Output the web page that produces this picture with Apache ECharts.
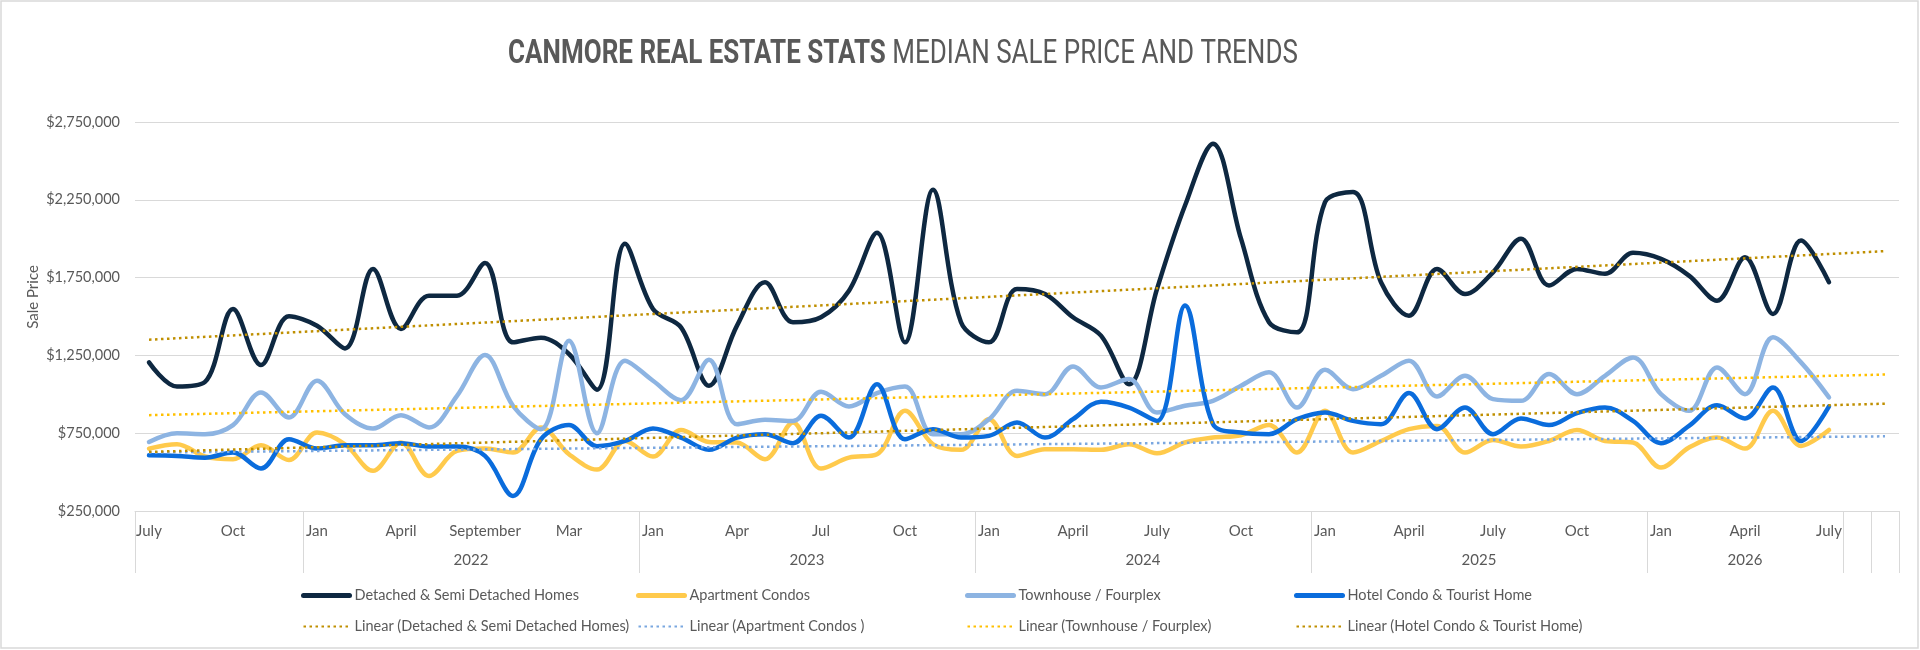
<!DOCTYPE html>
<html>
<head>
<meta charset="utf-8">
<title>Canmore Real Estate Stats</title>
<script src="https://cdn.jsdelivr.net/npm/echarts@6.0.0/dist/echarts.min.js"></script>
<style>
  html, body { margin: 0; padding: 0; background: #fff; }
  #chart { width: 1920px; height: 650px; }
</style>
</head>
<body>
<div id="chart"></div>
<script>
// month labels shown on the axis (index = month since July 2021, 63 slots)
var monthLabels = {
    0: 'July', 3: 'Oct', 6: 'Jan', 9: 'April', 12: 'September', 15: 'Mar',
    18: 'Jan', 21: 'Apr', 24: 'Jul', 27: 'Oct', 30: 'Jan', 33: 'April',
    36: 'July', 39: 'Oct', 42: 'Jan', 45: 'April', 48: 'July', 51: 'Oct',
    54: 'Jan', 57: 'April', 60: 'July'
};
var slotCount = 63;
// year labels, placed at half-month positions (0..126)
var yearLabels = { 24: '2022', 48: '2023', 72: '2024', 96: '2025', 115: '2026' };
// group separators, in half-month positions
var yearBreaks = [0, 12, 36, 60, 84, 108, 122, 124, 126];

var yTicks = [250000, 750000, 1250000, 1750000, 2250000, 2750000];

var detached = [1205000, 1050000, 1080000, 1548000, 1188000, 1501000, 1441000, 1295000, 1806000, 1420000,
    1634000, 1634000, 1844000, 1334000, 1364000, 1259000, 1030000, 1967000, 1548000, 1430000,
    1055000, 1441000, 1720000, 1463000, 1495000, 1666000, 2038000, 1334000, 2314000, 1463000,
    1334000, 1677000, 1645000, 1495000, 1377000, 1065000, 1677000, 2213000, 2611000, 2000000,
    1463000, 1398000, 2235000, 2300000, 1720000, 1505000, 1806000, 1645000, 1784000, 2000000,
    1699000, 1806000, 1774000, 1909000, 1870000, 1763000, 1602000, 1881000, 1516000, 1988000,
    1720000];
var apartment = [651000, 679000, 600000, 583000, 673000, 578000, 754000, 679000, 508000, 690000,
    475000, 636000, 651000, 626000, 787000, 615000, 516000, 700000, 600000, 771000,
    694000, 690000, 583000, 819000, 523000, 593000, 615000, 894000, 679000, 643000,
    840000, 604000, 647000, 647000, 643000, 679000, 621000, 690000, 722000, 737000,
    802000, 626000, 894000, 626000, 700000, 776000, 797000, 626000, 707000, 664000,
    700000, 771000, 700000, 690000, 529000, 658000, 722000, 651000, 894000, 668000,
    771000];
var townhouse = [694000, 750000, 744000, 802000, 1012000, 851000, 1087000, 872000, 780000, 866000,
    787000, 990000, 1252000, 926000, 776000, 1344000, 750000, 1216000, 1087000, 962000,
    1222000, 808000, 836000, 829000, 1016000, 922000, 1008000, 1050000, 744000, 744000,
    840000, 1023000, 1001000, 1179000, 1044000, 1098000, 883000, 926000, 958000, 1055000,
    1141000, 915000, 1158000, 1033000, 1119000, 1216000, 986000, 1119000, 969000, 958000,
    1130000, 1001000, 1119000, 1237000, 1001000, 894000, 1173000, 1001000, 1366000, 1205000,
    980000];
var hotel = [608000, 604000, 593000, 626000, 523000, 711000, 651000, 673000, 673000, 686000,
    664000, 664000, 604000, 347000, 711000, 802000, 666000, 700000, 780000, 722000,
    643000, 722000, 744000, 686000, 862000, 722000, 1065000, 711000, 776000, 722000,
    733000, 819000, 722000, 840000, 952000, 915000, 829000, 1570000, 808000, 754000,
    744000, 840000, 883000, 829000, 808000, 1008000, 776000, 915000, 744000, 845000,
    802000, 879000, 915000, 829000, 686000, 797000, 930000, 845000, 1044000, 700000,
    922000];

// trend lines: value at first slot and at last slot
var trendSlots = [0, 62];
var detachedTrend = [1351000, 1920000];
var apartmentTrend = [626000, 730000];
var townhouseTrend = [866000, 1127000];
var hotelTrend = [630000, 940000];

var names = ['Detached & Semi Detached Homes', 'Apartment Condos', 'Townhouse / Fourplex', 'Hotel Condo & Tourist Home'];
var trendNames = ['Linear (Detached & Semi Detached Homes)', 'Linear (Apartment Condos )',
    'Linear (Townhouse / Fourplex)', 'Linear (Hotel Condo & Tourist Home)'];
var colors = ['#0E2841', '#FFCA4C', '#8DB4E2', '#0A6CDC'];
var trendColors = ['#BF8F00', '#7AA7E0', '#FFC000', '#BF8F00'];

var font = "Lato, 'Liberation Sans', sans-serif";
var titleFont = "Roboto, 'Liberation Sans', sans-serif";
var grey = '#595959';

var slots = [];
for (var i = 0; i < slotCount; i++) slots.push('m' + i);
var halfSlots = [];
for (var j = 0; j <= slotCount * 2; j++) halfSlots.push('h' + j);

function money(v) {
    return '$' + v.toString().replace(/\B(?=(\d{3})+(?!\d))/g, ',');
}
function pairs(vals) {
    return [[trendSlots[0], vals[0]], [trendSlots[1], vals[1]]];
}

var myChart = echarts.init(document.getElementById('chart'));
var seriesData = [detached, apartment, townhouse, hotel];
var trendData = [detachedTrend, apartmentTrend, townhouseTrend, hotelTrend];
var series = [];
for (var s = 0; s < 4; s++) {
    series.push({
        name: names[s],
        type: 'line',
        smooth: 0.35,
        symbol: 'none',
        xAxisIndex: 0,
        data: seriesData[s],
        lineStyle: { color: colors[s], width: 4.5, cap: 'round' },
        itemStyle: { color: colors[s] },
        z: 2
    });
}
for (var t = 0; t < 4; t++) {
    series.push({
        name: trendNames[t],
        type: 'line',
        symbol: 'none',
        xAxisIndex: 0,
        data: pairs(trendData[t]),
        lineStyle: { color: trendColors[t], width: 2.5, type: [2.5, 3.5] },
        itemStyle: { color: trendColors[t] },
        z: 3
    });
}

var legendLefts = [301, 636, 965, 1294];
var legends = [];
for (var l = 0; l < 4; l++) {
    legends.push({
        left: legendLefts[l],
        top: 588,
        padding: 0,
        orient: 'vertical',
        itemGap: 16,
        itemWidth: 46,
        itemHeight: 16,
        selectedMode: false,
        itemStyle: { opacity: 0 },
        data: [
            { name: names[l], lineStyle: { width: 5, cap: 'round' } },
            { name: trendNames[l] }
        ],
        textStyle: { color: grey, fontSize: 14.5, fontFamily: font }
    });
}

var option = {
    animation: false,
    backgroundColor: '#fff',
    legend: legends,
    grid: { left: 135, right: 21, top: 122, bottom: 139, outerBoundsMode: 'none' },
    xAxis: [
        {
            type: 'category',
            data: slots,
            boundaryGap: true,
            axisLine: { show: true, lineStyle: { color: '#D9D9D9', width: 1 } },
            axisTick: { show: false },
            splitLine: { show: false },
            axisLabel: {
                interval: 0,
                margin: 13,
                color: grey,
                fontSize: 15,
                fontFamily: font,
                formatter: function (v, idx) { return monthLabels[idx] || ''; }
            }
        },
        {
            type: 'category',
            data: halfSlots,
            boundaryGap: false,
            position: 'bottom',
            axisLine: { show: false },
            axisTick: {
                show: true,
                length: 62,
                interval: function (idx) { return yearBreaks.indexOf(idx) >= 0; },
                lineStyle: { color: '#D9D9D9', width: 1 }
            },
            splitLine: { show: false },
            axisLabel: {
                interval: 0,
                margin: 42,
                color: grey,
                fontSize: 15,
                fontFamily: font,
                formatter: function (v, idx) { return yearLabels[idx] || ''; }
            }
        }
    ],
    yAxis: {
        type: 'value',
        min: yTicks[0],
        max: yTicks[yTicks.length - 1],
        interval: 500000,
        axisLine: { show: false },
        axisTick: { show: false },
        splitLine: { lineStyle: { color: '#D9D9D9', width: 1 } },
        axisLabel: { color: grey, fontSize: 14.5, fontFamily: font, margin: 15, formatter: money }
    },
    graphic: [
        {
            type: 'rect',
            shape: { x: 1, y: 1, width: 1917, height: 647 },
            style: { fill: 'none', stroke: '#D9D9D9', lineWidth: 1.5 },
            silent: true
        },
        {
            // title, squeezed to look like the condensed face of the original
            type: 'text',
            x: 903,
            y: 54,
            scaleX: 0.765,
            style: {
                text: '{b|CANMORE REAL ESTATE STATS }{r|MEDIAN SALE PRICE AND TRENDS}',
                align: 'center',
                verticalAlign: 'middle',
                rich: {
                    b: { fontFamily: titleFont, fontWeight: 'bold', fontSize: 34, fill: grey },
                    r: { fontFamily: titleFont, fontWeight: 'normal', fontSize: 34, fill: grey }
                }
            },
            silent: true
        },
        {
            type: 'text',
            x: 33,
            y: 297,
            rotation: Math.PI / 2,
            style: { text: 'Sale Price', fill: grey, fontSize: 15, fontFamily: font, align: 'center', verticalAlign: 'middle' },
            silent: true
        }
    ],
    series: series
};
myChart.setOption(option);
</script>
</body>
</html>
